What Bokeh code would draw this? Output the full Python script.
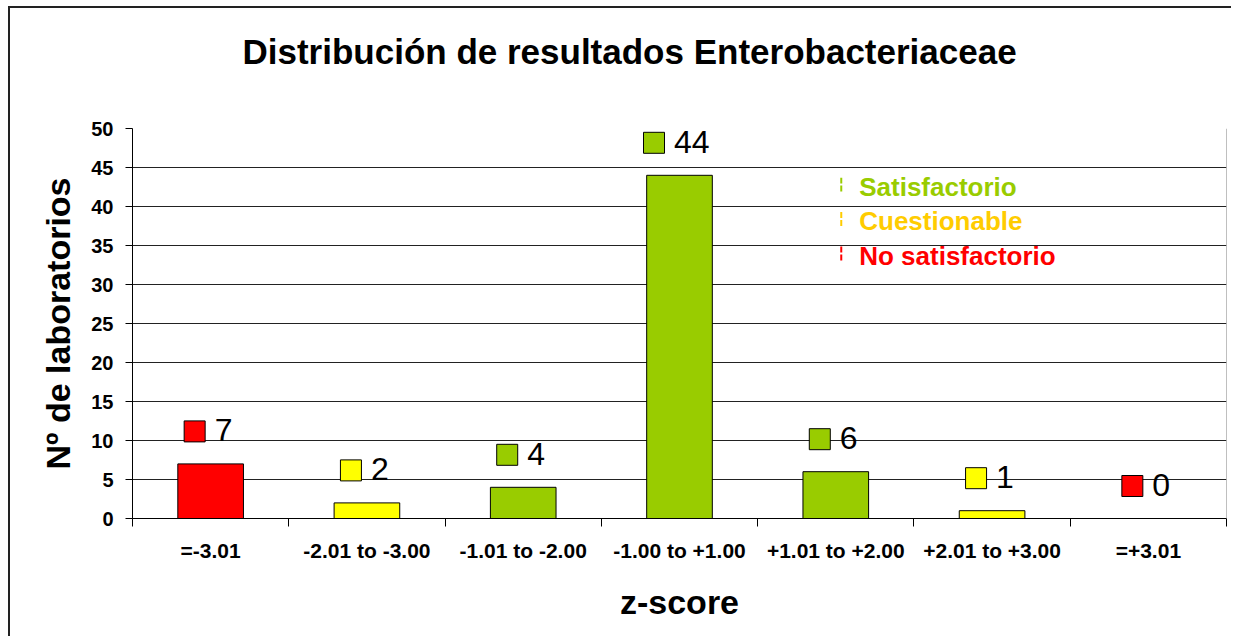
from bokeh.plotting import figure
from bokeh.models import FixedTicker, Label, Title, Span
from bokeh.embed import file_html
from bokeh.resources import INLINE
from bokeh.core.properties import value

categories = ["=-3.01", "-2.01 to -3.00", "-1.01 to -2.00", "-1.00 to +1.00",
              "+1.01 to +2.00", "+2.01 to +3.00", "=+3.01"]
counts = [7, 2, 4, 44, 6, 1, 0]
bar_colors = ["#FF0000", "#FFFF00", "#99CC00", "#99CC00", "#99CC00", "#FFFF00", "#FF0000"]
legend_labels = ["Satisfactorio", "Cuestionable", "No satisfactorio"]
legend_colors = ["#99CC00", "#FFCC00", "#FF0000"]
y_ticks = list(range(0, 51, 5))
title_text = "Distribución de resultados Enterobacteriaceae"

FONT = "Liberation Sans"
W, H = 1223, 630
ML, MR, MT, MB = 122, 7, 120, 120
cat_px = (W - ML - MR) / len(categories)
unit_px = (H - MT - MB) / 50.0

p = figure(width=W, height=H, x_range=(0, len(categories)), y_range=(0, 50),
           output_backend="svg", toolbar_location=None, title=None,
           min_border_left=ML, min_border_right=MR, min_border_top=MT, min_border_bottom=MB)
p.styles = {"margin-left": "8px", "margin-top": "6px",
            "border-left": "2px solid #222222", "border-top": "2px solid #222222"}

p.outline_line_color = None
p.add_layout(Span(location=len(categories), dimension="height", line_color="#808080", line_width=1))

# spacer panel between plot area and title, then the title itself
p.add_layout(Title(text=" ", text_font=FONT, text_font_size="10px", standoff=22), "above")
p.add_layout(Title(text=title_text, align="left", offset=110, vertical_align="top", standoff=42,
                   text_font=FONT, text_font_size="35px", text_font_style="bold",
                   text_color="black"), "above")

xc = [i + 0.5 for i in range(len(categories))]

# bars
p.vbar(x=xc, top=counts, width=0.42, fill_color=bar_colors, line_color="black", line_width=1)

# data labels with legend keys (Excel style)
labels = [str(c) for c in counts]
key_x = []
for i, t in enumerate(labels):
    group_w = 21 + 13 + 19 * len(t)
    dx_px = -group_w / 2 + 10.5
    key_x.append(xc[i] + dx_px / cat_px)
key_y = [c + 32.5 / unit_px for c in counts]
text_y = [c + 33.5 / unit_px for c in counts]
p.rect(x=key_x, y=key_y, width=21, height=21, width_units="screen", height_units="screen",
       fill_color=bar_colors, line_color="black", line_width=1)
p.text(x=key_x, y=text_y, text=labels, x_offset=20, text_baseline="alphabetic",
       text_align="left", text_font=value(FONT), text_font_size="32px", text_color="black")

# legend
leg_x = 4.535
leg_base = 42.55
leg_step = 4.42
for i, (lab, col) in enumerate(zip(legend_labels, legend_colors)):
    b = leg_base - i * leg_step
    p.segment(x0=[leg_x], x1=[leg_x], y0=[b - 0.64], y1=[b + 1.15],
              line_color=col, line_width=2, line_dash="6 2")
    p.add_layout(Label(x=leg_x + 0.115, y=b, text=lab, text_color=col, text_font=FONT,
                       text_font_size="26px", text_font_style="bold",
                       text_baseline="alphabetic"))

# axes
p.yaxis.ticker = FixedTicker(ticks=y_ticks)
p.yaxis.major_label_text_font = FONT
p.yaxis.major_label_text_font_size = "20px"
p.yaxis.major_label_text_font_style = "bold"
p.yaxis.major_label_text_color = "black"
p.yaxis.major_tick_out = 7
p.yaxis.major_tick_in = 0
p.yaxis.minor_tick_line_color = None
p.yaxis.axis_line_color = "black"
p.yaxis.major_tick_line_color = "black"
p.yaxis.major_label_standoff = 12
p.yaxis.axis_label = "Nº de laboratorios"
p.yaxis.axis_label_text_font = FONT
p.yaxis.axis_label_text_font_size = "34px"
p.yaxis.axis_label_text_font_style = "bold"
p.yaxis.axis_label_text_color = "black"
p.yaxis.axis_label_standoff = 11

p.xaxis.ticker = FixedTicker(ticks=xc, minor_ticks=list(range(len(categories) + 1)))
p.xaxis.major_label_overrides = {x: c for x, c in zip(xc, categories)}
p.xaxis.major_tick_line_color = None
p.xaxis.major_tick_out = 0
p.xaxis.major_tick_in = 0
p.xaxis.minor_tick_line_color = "black"
p.xaxis.minor_tick_out = 8
p.xaxis.minor_tick_in = 0
p.xaxis.axis_line_color = "black"
p.xaxis.major_label_text_font = FONT
p.xaxis.major_label_text_font_size = "21px"
p.xaxis.major_label_text_font_style = "bold"
p.xaxis.major_label_text_color = "black"
p.xaxis.major_label_standoff = 12
p.xaxis.axis_label = "z-score"
p.xaxis.axis_label_text_font = FONT
p.xaxis.axis_label_text_font_size = "34px"
p.xaxis.axis_label_text_font_style = "bold"
p.xaxis.axis_label_text_color = "black"
p.xaxis.axis_label_standoff = 18

p.xgrid.grid_line_color = None
p.ygrid.ticker = FixedTicker(ticks=y_ticks)
p.ygrid.grid_line_color = "#222222"
p.ygrid.grid_line_width = 1

open("out.html", "w").write(file_html(p, INLINE))
